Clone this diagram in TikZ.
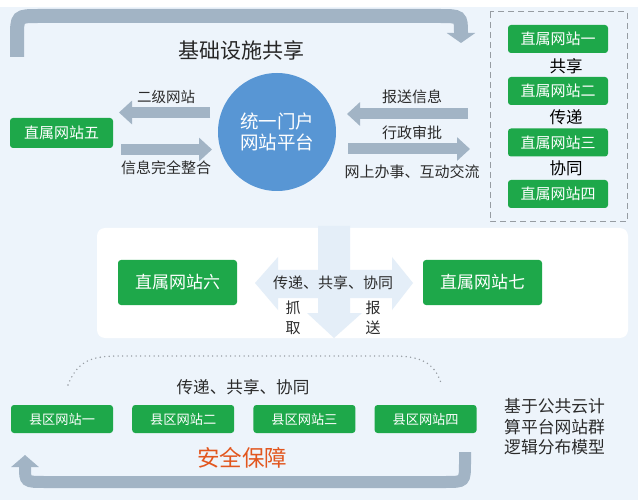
\documentclass[tikz,border=0pt]{standalone}
\usepackage{fontspec}
\setmainfont{Noto Sans CJK SC}
\usetikzlibrary{arrows.meta}

\definecolor{bgblue}{RGB}{237,244,251}
\definecolor{bandgrey}{RGB}{162,180,197}
\definecolor{sitegreen}{RGB}{30,168,74}
\definecolor{circleblue}{RGB}{88,150,212}
\definecolor{crossblue}{RGB}{228,238,248}
\definecolor{txtdark}{RGB}{43,43,43}
\definecolor{safeorange}{RGB}{226,86,30}
\definecolor{dashgrey}{RGB}{150,156,162}

\tikzset{
    sitebox/.style={fill=sitegreen, text=white, rounded corners=3pt, inner sep=0pt,
        minimum width=100pt, minimum height=28pt, font=\fontsize{15}{18}\selectfont},
    txt/.style={text=txtdark, inner sep=0pt, font=\fontsize{15}{18}\selectfont},
    band/.style={draw=bandgrey, line width=14pt},
    fatarrow/.style={draw=bandgrey, line width=11pt, -{Triangle[width=23pt,length=13pt]}},
}

\begin{document}
\begin{tikzpicture}[x=1pt, y=-1pt]
    \useasboundingbox (0,0) rectangle (638,500);

    % Background
    \fill[white] (0,0) rectangle (638,7);
    \fill[bgblue] (0,7) rectangle (638,500);

    % Infrastructure sharing arrow on top
    \draw[band, -{Triangle[width=28pt,length=10pt]}] (17,57) -- (17,38)
        .. controls (17,16) .. (39,16) -- (439,16) .. controls (461,16) .. (461,43);
    \node[txt, text=black!85, font=\fontsize{21}{24}\selectfont] (title) at (241,50) {基础设施共享};

    % Portal in the middle
    \node[circle, fill=circleblue, minimum size=118pt, inner sep=0pt, text=white, align=center,
        font=\fontsize{18.5}{21}\selectfont] (portal) at (277,132) {统一门户\\网站平台};

    % Left side with site five
    \node[sitebox, minimum width=103pt, minimum height=30pt] (zs5) at (61.5,133) {直属网站五};
    \node[txt, font=\fontsize{14.5}{17}\selectfont] (left1) at (166,97) {二级网站};
    \node[txt] (left2) at (166,168) {信息完全整合};
    \draw[fatarrow] (210,112.5) -- (119,112.5);
    \draw[fatarrow] (121,149.5) -- (212,149.5);

    % Right side arrows
    \node[txt] (right1) at (412,97) {报送信息};
    \node[txt] (right2) at (412,133) {行政审批};
    \node[txt] (right3) at (412,172) {网上办事、互动交流};
    \draw[fatarrow] (468,114) -- (347,114);
    \draw[fatarrow] (348,149) -- (470,149);

    % Direct sites one to four in dashed frame
    \draw[dashgrey, line width=1pt, dash pattern=on 6pt off 4pt] (490,12) rectangle (627,222);
    \foreach \i/\t/\y in {1/一/39, 2/二/91, 3/三/142.5, 4/四/194} {
        \node[sitebox] (zs\i) at (558,\y) {直属网站\t};
    }
    \foreach \i/\t/\y in {1/共享/66, 2/传递/117, 3/协同/168} {
        \node[txt, text=black, font=\fontsize{16.5}{19}\selectfont] (link\i) at (566,\y) {\t};
    }

    % White panel with sites six and seven
    \fill[white, rounded corners=8pt] (97,228) rectangle (628,338);
    \fill[crossblue] (255,283) -- (278,257) -- (278,270) -- (392,270) -- (392,257) -- (413,283)
        -- (392,310) -- (392,298) -- (278,298) -- (278,310) -- cycle;
    \fill[crossblue] (318,226) -- (350,226) -- (350,313) -- (362,313) -- (334,338)
        -- (307,313) -- (318,313) -- cycle;
    \node[sitebox, minimum width=119pt, minimum height=45pt, font=\fontsize{17}{20}\selectfont] (zs6) at (177.5,282.5) {直属网站六};
    \node[sitebox, minimum width=119pt, minimum height=45pt, font=\fontsize{17}{20}\selectfont] (zs7) at (482.5,282.5) {直属网站七};
    \node[txt] (mid) at (333,283) {传递、共享、协同};
    \node[txt, align=center, font=\fontsize{15}{20}\selectfont] (grab) at (293,318) {抓\\取};
    \node[txt, align=center, font=\fontsize{15}{20}\selectfont] (send) at (373,318) {报\\送};

    % County sites at the bottom
    \draw[dashgrey, line width=1.6pt, line cap=round, dash pattern=on 0pt off 4.5pt]
        (68,385) .. controls (78,360) and (92,356) .. (120,356) -- (392,356)
        .. controls (420,356) and (434,362) .. (441,383);
    \node[txt, font=\fontsize{16.6}{19}\selectfont] (county) at (243,387) {传递、共享、协同};
    \foreach \i/\t in {1/一, 2/二, 3/三, 4/四} {
        \node[sitebox, minimum width=102pt, font=\fontsize{13.2}{16}\selectfont] (xq\i) at ({62+(\i-1)*121.2},419) {县区网站\t};
    }
    \node[txt, align=left, anchor=west, font=\fontsize{16.8}{20.5}\selectfont] (model) at (504,427)
        {基于公共云计\\算平台网站群\\逻辑分布模型};

    % Security arrow
    \node[txt, text=safeorange, font=\fontsize{22.5}{26}\selectfont] (safe) at (242,458) {安全保障};
    \draw[band, line width=12pt, -{Triangle[width=27pt,length=12pt]}] (465,452) -- (465,462)
        .. controls (465,482) .. (445,482) -- (45,482) .. controls (25,482) .. (25,455);

\end{tikzpicture}
\end{document}
